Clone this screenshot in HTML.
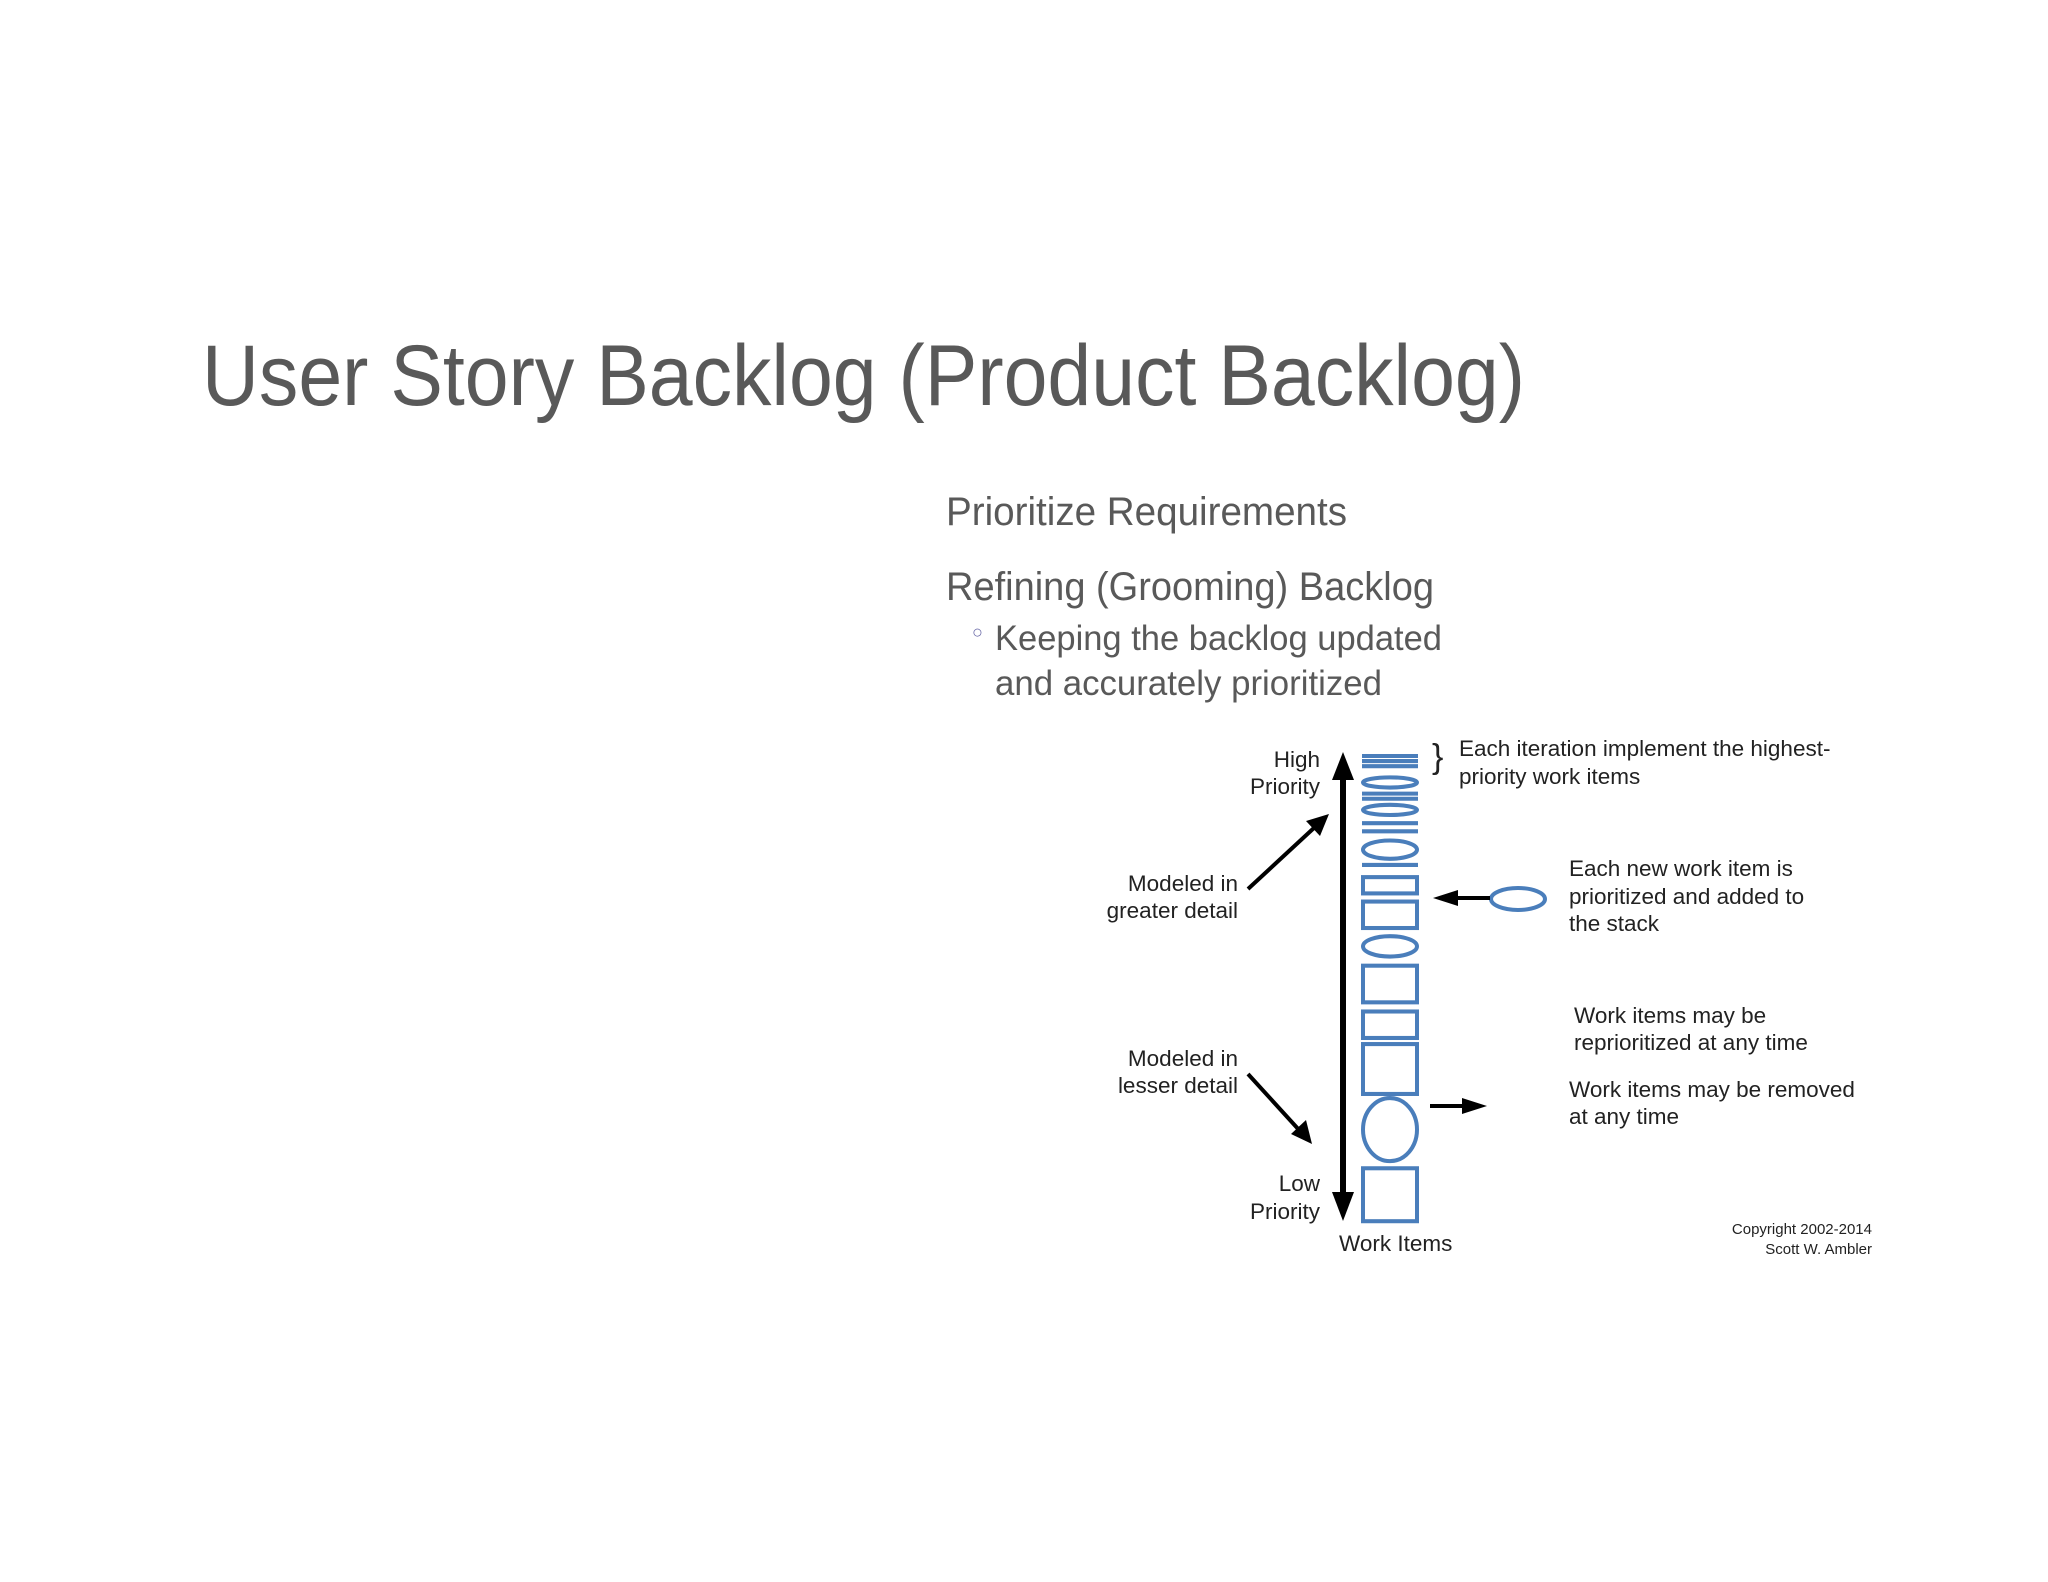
<!DOCTYPE html>
<html><head><meta charset="utf-8"><style>
html,body{margin:0;padding:0;background:#fff;}
svg{display:block;}
</style></head><body>
<svg width="2048" height="1582" viewBox="0 0 2048 1582" xmlns="http://www.w3.org/2000/svg">
<rect width="2048" height="1582" fill="#fff"/>
<g font-family="Liberation Sans, sans-serif" fill="#595959">
<text x="202" y="405" font-size="86" textLength="1323" lengthAdjust="spacingAndGlyphs">User Story Backlog (Product Backlog)</text>
<text x="946" y="525" font-size="40" textLength="401" lengthAdjust="spacingAndGlyphs">Prioritize Requirements</text>
<text x="946" y="600" font-size="40" textLength="488" lengthAdjust="spacingAndGlyphs">Refining (Grooming) Backlog</text>
<text x="972" y="638" font-size="18" fill="#6a6aa8">○</text>
<text x="995" y="650" font-size="35" textLength="447" lengthAdjust="spacingAndGlyphs">Keeping the backlog updated</text>
<text x="995" y="695" font-size="35" textLength="387" lengthAdjust="spacingAndGlyphs">and accurately prioritized</text>
</g>
<!-- vertical arrow -->
<line x1="1343" y1="775" x2="1343" y2="1195" stroke="#000" stroke-width="6"/>
<polygon points="1343,752 1332,780 1354,780" fill="#000"/>
<polygon points="1343,1221 1332,1192 1354,1192" fill="#000"/>
<!-- stack -->
<g fill="none" stroke="#4a7ebb" stroke-width="4" transform="translate(0,757) scale(1,1.018) translate(0,-757)">
<line x1="1362" y1="756" x2="1418" y2="756"/>
<line x1="1362" y1="761" x2="1418" y2="761"/>
<line x1="1362" y1="766" x2="1418" y2="766"/>
<ellipse cx="1390" cy="782" rx="27" ry="5"/>
<line x1="1362" y1="793" x2="1418" y2="793"/>
<line x1="1362" y1="798" x2="1418" y2="798"/>
<ellipse cx="1390" cy="809" rx="27" ry="5"/>
<line x1="1362" y1="822" x2="1418" y2="822"/>
<line x1="1362" y1="830" x2="1418" y2="830"/>
<ellipse cx="1390" cy="848" rx="27" ry="9"/>
<line x1="1362" y1="863" x2="1418" y2="863"/>
<rect x="1363" y="875" width="54" height="16"/>
<rect x="1363" y="899" width="54" height="26"/>
<ellipse cx="1390" cy="943" rx="27" ry="10"/>
<rect x="1363" y="962" width="54" height="36"/>
<rect x="1363" y="1007" width="54" height="26"/>
<rect x="1363" y="1039" width="54" height="49"/>
<ellipse cx="1390" cy="1123" rx="27" ry="31"/>
<rect x="1363" y="1161" width="54" height="52"/>
</g>
<ellipse cx="1518" cy="899" rx="27" ry="11" fill="none" stroke="#4a7ebb" stroke-width="4"/>
<!-- arrows -->
<line x1="1455" y1="898" x2="1490" y2="898" stroke="#000" stroke-width="4"/>
<polygon points="1433,898 1458,890 1458,906" fill="#000"/>
<line x1="1430" y1="1106" x2="1465" y2="1106" stroke="#000" stroke-width="4"/>
<polygon points="1487,1106 1462,1098 1462,1114" fill="#000"/>
<line x1="1248" y1="889" x2="1315" y2="827" stroke="#000" stroke-width="4"/>
<polygon points="1329,814 1320,836 1306,821" fill="#000"/>
<line x1="1248" y1="1074" x2="1300" y2="1131" stroke="#000" stroke-width="4"/>
<polygon points="1312,1144 1291,1134 1306,1120" fill="#000"/>
<g font-family="Liberation Sans, sans-serif" font-size="22.5" fill="#222">
<text x="1432" y="768" font-size="34">}</text>
<g text-anchor="end">
<text x="1320" y="767">High</text>
<text x="1320" y="794">Priority</text>
<text x="1238" y="891">Modeled in</text>
<text x="1238" y="918">greater detail</text>
<text x="1238" y="1066">Modeled in</text>
<text x="1238" y="1093">lesser detail</text>
<text x="1320" y="1191">Low</text>
<text x="1320" y="1219">Priority</text>
<text x="1872" y="1234" font-size="15">Copyright 2002-2014</text>
<text x="1872" y="1254" font-size="15">Scott W. Ambler</text>
</g>
<text x="1339" y="1251">Work Items</text>
<text x="1459" y="756">Each iteration implement the highest-</text>
<text x="1459" y="784">priority work items</text>
<text x="1569" y="876">Each new work item is</text>
<text x="1569" y="904">prioritized and added to</text>
<text x="1569" y="931">the stack</text>
<text x="1574" y="1023">Work items may be</text>
<text x="1574" y="1050">reprioritized at any time</text>
<text x="1569" y="1097">Work items may be removed</text>
<text x="1569" y="1124">at any time</text>
</g>
</svg>
</body></html>
